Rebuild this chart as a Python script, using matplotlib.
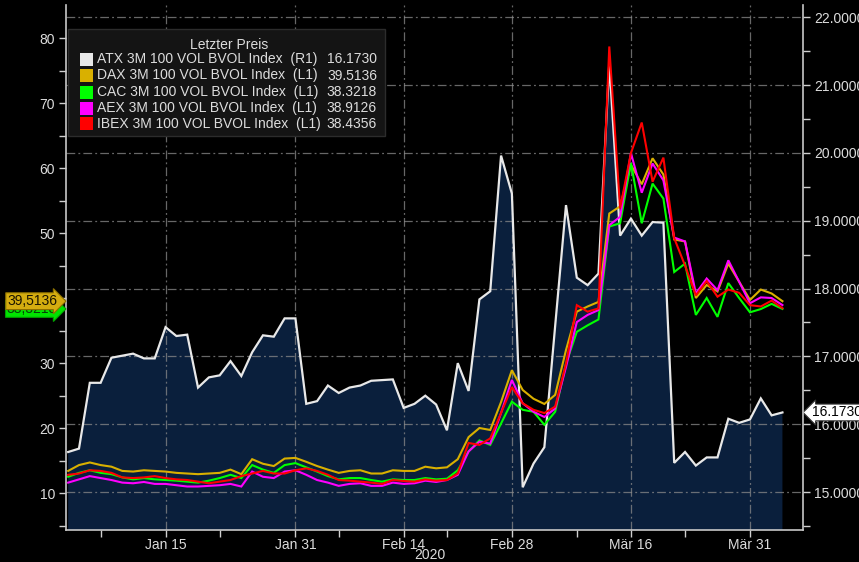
import numpy as np
import pandas as pd
import matplotlib
matplotlib.use("Agg")
import matplotlib.pyplot as plt
from matplotlib import font_manager
from matplotlib.patches import Rectangle
from matplotlib.transforms import blended_transform_factory
from matplotlib.ticker import FormatStrFormatter, FixedLocator

# ---------------- data ----------------
dates = pd.bdate_range("2020-01-02", "2020-04-03")

atx = [15.59, 15.64, 16.61, 16.61, 16.98, 17.01, 17.04, 16.97, 16.97, 17.43,
       17.30, 17.32, 16.54, 16.69, 16.72, 16.93, 16.71, 17.06, 17.31, 17.29,
       17.56, 17.56, 16.30, 16.34, 16.57, 16.46, 16.54, 16.57, 16.64, 16.65,
       16.66, 16.24, 16.30, 16.42, 16.29, 15.91, 16.90, 16.49, 17.84, 17.96,
       19.96, 19.40, 15.07, 15.42, 15.66, 17.45, 19.23, 18.16, 18.05, 18.22,
       21.32, 18.78, 19.03, 18.78, 18.98, 18.97, 15.43, 15.59, 15.39, 15.51,
       15.51, 16.08, 16.02, 16.07, 16.38, 16.13, 16.173]

dax = [13.4, 14.3, 14.7, 14.3, 14.05, 13.4, 13.3, 13.5, 13.4, 13.3,
       13.1, 13.0, 12.9, 13.0, 13.1, 13.6, 12.9, 15.2, 14.5, 14.15,
       15.3, 15.4, 14.8, 14.15, 13.6, 13.1, 13.4, 13.5, 13.0, 13.0,
       13.5, 13.4, 13.4, 14.05, 13.8, 13.95, 15.2, 18.6, 20.0, 19.7,
       24.0, 28.9, 25.85, 24.5, 23.7, 25.1, 32.0, 37.9, 38.7, 39.4,
       53.0, 54.1, 60.5, 57.5, 61.5, 59.0, 49.0, 48.7, 40.0, 42.0,
       41.0, 45.3, 42.5, 39.7, 41.3, 40.7, 39.5136]

cac = [12.5, 13.1, 13.5, 13.1, 12.9, 12.4, 12.1, 12.3, 12.1, 12.0,
       11.9, 11.75, 11.6, 11.9, 12.3, 12.8, 12.3, 14.3, 13.6, 13.1,
       14.3, 14.6, 13.95, 13.3, 12.6, 12.1, 12.3, 12.3, 12.0, 11.75,
       12.1, 12.0, 12.0, 12.3, 12.1, 12.2, 13.5, 16.4, 18.1, 17.4,
       20.7, 24.05, 22.8, 22.5, 20.5, 22.5, 29.9, 34.8, 35.8, 36.7,
       51.0, 51.5, 60.8, 51.5, 57.6, 55.3, 44.0, 45.3, 37.4, 40.0,
       37.1, 42.3, 40.0, 37.8, 38.3, 39.1, 38.3218]

aex = [11.6, 12.1, 12.6, 12.3, 12.0, 11.6, 11.5, 11.7, 11.4, 11.4,
       11.2, 11.0, 11.0, 11.1, 11.2, 11.4, 11.0, 13.3, 12.5, 12.3,
       13.3, 13.5, 12.8, 12.0, 11.6, 11.1, 11.4, 11.5, 11.1, 11.1,
       11.6, 11.4, 11.5, 11.9, 11.7, 12.0, 12.8, 16.4, 17.9, 17.6,
       22.3, 27.4, 23.8, 22.5, 21.7, 23.0, 29.4, 36.3, 37.4, 38.15,
       51.2, 52.5, 62.3, 56.2, 60.7, 58.1, 49.3, 48.7, 40.7, 43.0,
       41.2, 45.8, 42.5, 39.2, 40.1, 40.0, 38.9126]

ibex = [12.8, 13.0, 13.5, 13.4, 13.1, 12.4, 12.3, 12.4, 12.6, 12.3,
        12.1, 12.0, 11.75, 11.5, 11.75, 12.0, 12.6, 13.0, 13.4, 13.0,
        13.0, 13.5, 13.8, 13.4, 12.8, 12.0, 11.9, 11.75, 11.6, 11.4,
        12.0, 11.85, 11.75, 12.1, 11.9, 12.0, 13.0, 17.7, 17.4, 18.4,
        22.3, 26.3, 23.8, 22.8, 22.3, 23.3, 29.9, 38.9, 37.9, 38.4,
        78.7, 53.8, 62.3, 67.0, 57.9, 61.6, 49.2, 45.0, 40.4, 42.6,
        40.2, 41.3, 40.8, 38.9, 38.7, 39.6, 38.4356]

series_names = ["ATX 3M 100 VOL BVOL Index  (R1)",
                "DAX 3M 100 VOL BVOL Index  (L1)",
                "CAC 3M 100 VOL BVOL Index  (L1)",
                "AEX 3M 100 VOL BVOL Index  (L1)",
                "IBEX 3M 100 VOL BVOL Index  (L1)"]
last_values = ["16.1730", "39.5136", "38.3218", "38.9126", "38.4356"]

major_dates = ["2020-01-15", "2020-01-31", "2020-02-14", "2020-02-28", "2020-03-16", "2020-03-31"]
major_labels = ["Jan 15", "Jan 31", "Feb 14", "Feb 28", "Mär 16", "Mär 31"]
minor_dates = ["2020-01-07", "2020-01-22", "2020-02-06", "2020-02-20", "2020-03-09", "2020-03-23"]

left_ticks = [10, 20, 30, 40, 50, 60, 70, 80]
right_ticks = [15, 16, 17, 18, 19, 20, 21, 22]

# ---------------- style ----------------
names = {f.name for f in font_manager.fontManager.ttflist}
if "Liberation Sans Narrow" in names:
    FONT = ["Liberation Sans Narrow", "DejaVu Sans"]
    FS = 11
else:
    FONT = ["Liberation Sans", "DejaVu Sans"]
    FS = 10
plt.rcParams["font.family"] = FONT

W, H = 859, 562
TXT = "#dcdcdc"
NAVY = "#0a1f3c"
GOLD = "#d9b000"
GREEN = "#00ff00"
MAGENTA = "#ff00ff"
RED = "#ff0000"
WHITE = "#e8e8e8"
GRID = dict(color="#8a8a8a", lw=0.9, linestyle=(0, (7, 2.5, 1.5, 2.5)), alpha=0.75)

def fx(px):
    return px / W

def fy(py):
    return 1 - py / H

x = np.arange(len(dates))
major_idx = [dates.get_loc(pd.Timestamp(d)) for d in major_dates]
minor_idx = [dates.get_loc(pd.Timestamp(d)) for d in minor_dates]

fig = plt.figure(figsize=(W / 100, H / 100), dpi=100, facecolor="black")
ax = fig.add_axes([fx(66), 1 - 530 / H, (803 - 66) / W, (530 - 5) / H])
axr = ax.twinx()
ax.set_zorder(axr.get_zorder() + 1)
ax.patch.set_visible(False)
axr.patch.set_visible(True)
axr.patch.set_facecolor("black")

# right axis: ATX area
axr.set_ylim(14.44, 22.18)
axr.fill_between(x, atx, 10, color=NAVY, lw=0, zorder=1)
for t in right_ticks:
    axr.axhline(t, zorder=1.5, **GRID)
for i in major_idx:
    axr.axvline(i, zorder=1.5, **GRID)
axr.plot(x, atx, color=WHITE, lw=1.6, zorder=2, solid_joinstyle="miter")

# left axis: lines
ax.set_ylim(4.31, 85.08)
ax.set_xlim(-0.2, 67.9)
for data, col in [(dax, GOLD), (cac, GREEN), (aex, MAGENTA), (ibex, RED)]:
    ax.plot(x, data, color=col, lw=1.5, solid_joinstyle="miter")

# ticks
ax.set_xticks(major_idx)
ax.set_xticklabels(major_labels)
ax.xaxis.set_minor_locator(FixedLocator(minor_idx))
ax.set_yticks(left_ticks)
ax.yaxis.set_minor_locator(FixedLocator(np.arange(5, 85, 5)))
axr.set_yticks(right_ticks)
axr.yaxis.set_minor_locator(FixedLocator(np.arange(14.5, 22.5, 0.5)))
axr.yaxis.set_major_formatter(FormatStrFormatter("%.4f"))

ax.tick_params(axis="both", which="both", colors="#cfcfcf", labelcolor=TXT,
               labelsize=FS, direction="out", length=5, width=1)
ax.tick_params(axis="y", which="major", pad=3)
ax.tick_params(axis="x", which="major", pad=1)
axr.tick_params(axis="y", which="both", colors="#cfcfcf", labelcolor=TXT,
                labelsize=FS, direction="out", length=5, width=1, pad=3)

for s in ["left", "bottom", "right"]:
    ax.spines[s].set_color("#c8c8c8")
    ax.spines[s].set_linewidth(1.2)
ax.spines["top"].set_visible(False)
for s in axr.spines.values():
    s.set_visible(False)

fig.text(fx(430), fy(555), "2020", color=TXT, fontsize=FS, ha="center", va="center")

# value tags
bl = blended_transform_factory(ax.transAxes, ax.transData)
ax.text(-0.012, 38.3218, "38,3218", transform=bl, ha="right", va="center",
        fontsize=FS, color="#0a3a0a", zorder=5, clip_on=False,
        bbox=dict(boxstyle="rarrow,pad=0.1", fc="#00e400", ec="#00a000", lw=0.8))
ax.text(-0.012, 39.5136, "39,5136", transform=bl, ha="right", va="center",
        fontsize=FS, color="#1a1400", zorder=6, clip_on=False,
        bbox=dict(boxstyle="rarrow,pad=0.1", fc="#d4ac10", ec="#8c7000", lw=0.8))
br = blended_transform_factory(axr.transAxes, axr.transData)
axr.text(1.012, 16.173, "16.1730", transform=br, ha="left", va="center",
         fontsize=FS, color="black", zorder=6, clip_on=False,
         bbox=dict(boxstyle="larrow,pad=0.1", fc="white", ec="#333333", lw=0.8))

# legend box
fig.add_artist(Rectangle((fx(68), fy(136)), (385 - 68) / W, (136 - 29) / H,
                         transform=fig.transFigure, fc="#141414", ec="#2c2c2c",
                         lw=1, zorder=10))
fig.text(fx(229), fy(45), "Letzter Preis", color=TXT, fontsize=FS,
         ha="center", va="center", zorder=11)
legend_cols = [WHITE, GOLD, GREEN, MAGENTA, RED]
row_y = [59, 75.5, 92, 108, 124]
for name, val, col, yy in zip(series_names, last_values, legend_cols, row_y):
    fig.add_artist(Rectangle((fx(80), fy(yy + 6.5)), 13 / W, 13 / H,
                             transform=fig.transFigure, fc=col, ec="none", zorder=11))
    fig.text(fx(97), fy(yy), name, color=TXT, fontsize=FS, ha="left", va="center", zorder=11)
    fig.text(fx(377), fy(yy), val, color=TXT, fontsize=FS, ha="right", va="center", zorder=11)

fig.savefig("out.png", dpi=100, facecolor="black")
